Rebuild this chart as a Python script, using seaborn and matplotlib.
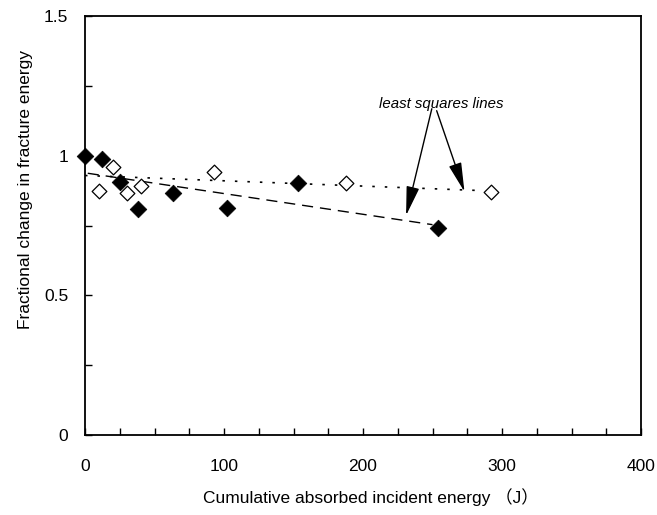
import numpy as np
import pandas as pd
import matplotlib
matplotlib.use("Agg")
import matplotlib.pyplot as plt
import seaborn as sns
from matplotlib.ticker import MultipleLocator

# ---- data ----
filled_energy = [0, 12, 25, 38, 63, 102, 153, 254]
filled_frac = [1.00, 0.988, 0.906, 0.810, 0.867, 0.812, 0.902, 0.742]

open_energy = [10, 20, 30, 40, 93, 188, 292]
open_frac = [0.873, 0.961, 0.865, 0.893, 0.942, 0.903, 0.869]

# least squares lines (endpoints as drawn)
fit_filled_x = [2, 250]
fit_filled_y = [0.937, 0.753]
fit_open_x = [0, 285]
fit_open_y = [0.929, 0.875]

x_ticks = [0, 100, 200, 300, 400]
y_ticks = [0, 0.5, 1, 1.5]
y_tick_labels = ["0", "0.5", "1", "1.5"]

annot_text = "least squares lines"
x_label = "Cumulative absorbed incident energy \uff08J\uff09"
y_label = "Fractional change in fracture energy"

sns.set_theme(style="white")
plt.rcParams["font.family"] = ["Liberation Sans", "Noto Sans CJK JP", "DejaVu Sans"]

fig = plt.figure(figsize=(6.57, 5.15), dpi=100)
ax = fig.add_axes([85 / 657, 1 - 435 / 515, 556 / 657, 419 / 515])

df_f = pd.DataFrame({"E": filled_energy, "F": filled_frac})
df_o = pd.DataFrame({"E": open_energy, "F": open_frac})

# fit lines
sns.lineplot(x=fit_filled_x, y=fit_filled_y, ax=ax, color="black", lw=1.0,
             estimator=None, sort=False)
ax.lines[-1].set_dashes([8, 5])
sns.lineplot(x=fit_open_x, y=fit_open_y, ax=ax, color="black", lw=1.2,
             estimator=None, sort=False)
ax.lines[-1].set_dashes([1.5, 6])

sns.scatterplot(data=df_o, x="E", y="F", ax=ax, marker="D", s=56,
                facecolor="white", edgecolor="black", linewidth=0.9, zorder=3,
                clip_on=False)
sns.scatterplot(data=df_f, x="E", y="F", ax=ax, marker="D", s=72,
                color="black", edgecolor="black", linewidth=0.5, zorder=4,
                clip_on=False)

ax.set_xlim(0, 400)
ax.set_ylim(0, 1.5)
ax.set_xticks(x_ticks)
ax.set_xticklabels([str(t) for t in x_ticks])
ax.set_yticks(y_ticks)
ax.set_yticklabels(y_tick_labels)
ax.xaxis.set_minor_locator(MultipleLocator(25))
ax.yaxis.set_minor_locator(MultipleLocator(0.25))
ax.tick_params(axis="both", which="both", direction="in", length=5, width=1,
               color="black", labelsize=12.5, labelcolor="black")
ax.tick_params(axis="x", which="both", pad=17, bottom=True, top=False)
ax.tick_params(axis="y", which="both", pad=12, left=True, right=False)

for sp in ax.spines.values():
    sp.set_visible(True)
    sp.set_color("black")
    sp.set_linewidth(1.3)

ax.set_xlabel(x_label, fontsize=12.5, color="black")
ax.set_ylabel(y_label, fontsize=12.5, color="black")
ax.xaxis.set_label_coords(0.514, -0.127)
ax.yaxis.set_label_coords(-0.094, 0.587)

ax.text(256, 1.186, annot_text, fontsize=10.8, style="italic", ha="center",
        va="center", color="black")
ap = dict(arrowstyle="-|>,head_length=0.9,head_width=0.2", color="black",
          lw=1.0, mutation_scale=20, shrinkA=0, shrinkB=0)
ax.annotate("", xy=(231, 0.786), xytext=(249.5, 1.168), arrowprops=ap)
ax.annotate("", xy=(273, 0.871), xytext=(253, 1.161), arrowprops=ap)

fig.savefig("out.png", dpi=100)
